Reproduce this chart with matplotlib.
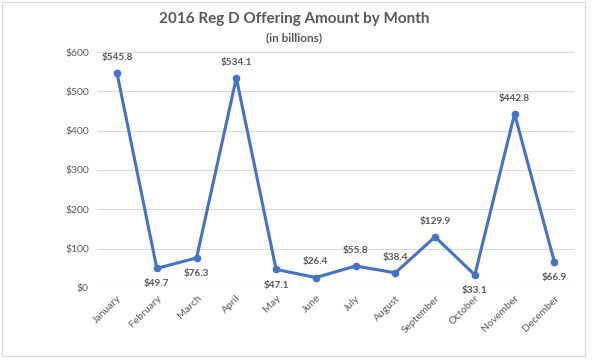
import matplotlib
matplotlib.use("Agg")
import matplotlib.pyplot as plt
from matplotlib.patches import Rectangle

months = ["January", "February", "March", "April", "May", "June", "July",
          "August", "September", "October", "November", "December"]
amounts = [545.8, 49.7, 76.3, 534.1, 47.1, 26.4, 55.8, 38.4, 129.9, 33.1,
           442.8, 66.9]
# where each data label sits relative to its point
label_above = [True, False, False, True, False, True, True, True, True,
               False, True, False]
yticks = [0, 100, 200, 300, 400, 500, 600]

blue = "#4472C4"
gray = "#595959"
plt.rcParams["font.family"] = ["Lato", "DejaVu Sans"]

fig = plt.figure(figsize=(6, 3.64), dpi=100)
ax = fig.add_axes([0.162, 0.209, 0.795, 0.648])

x = list(range(len(months)))
ax.plot(x, amounts, color=blue, linewidth=2.2, marker="o", markersize=4.5,
        zorder=3)

for xi, v, up in zip(x, amounts, label_above):
    dy = 8 if up else -8
    ax.annotate(f"${v:.1f}", (xi, v), xytext=(0, dy),
                textcoords="offset points", ha="center",
                va="bottom" if up else "top", fontsize=7.2, color=gray,
                fontweight="bold")

ax.set_xlim(-0.5, len(months) - 0.5)
ax.set_ylim(0, 600)
ax.set_yticks(yticks)
ax.set_yticklabels([f"${t}" for t in yticks])
ax.set_xticks(x)
ax.set_xticklabels(months, rotation=45, ha="right", rotation_mode="anchor")
ax.tick_params(axis="both", length=0, labelsize=7.5, colors=gray, pad=6)
ax.tick_params(axis="x", pad=4)
ax.grid(axis="y", color="#D9D9D9", linewidth=0.8)
ax.set_axisbelow(True)
for s in ax.spines.values():
    s.set_visible(False)

fig.text(0.49, 0.948, "2016 Reg D Offering Amount by Month", ha="center",
         va="center", fontsize=11, fontweight="bold", color=gray)
fig.text(0.49, 0.897, "(in billions)", ha="center", va="center",
         fontsize=8.5, fontweight="bold", color=gray)

fig.patches.append(Rectangle((0.003, 0.022), 0.972, 0.972,
                             transform=fig.transFigure, fill=False,
                             edgecolor="#D9D9D9", linewidth=0.8))

fig.savefig("out.png", dpi=100)
